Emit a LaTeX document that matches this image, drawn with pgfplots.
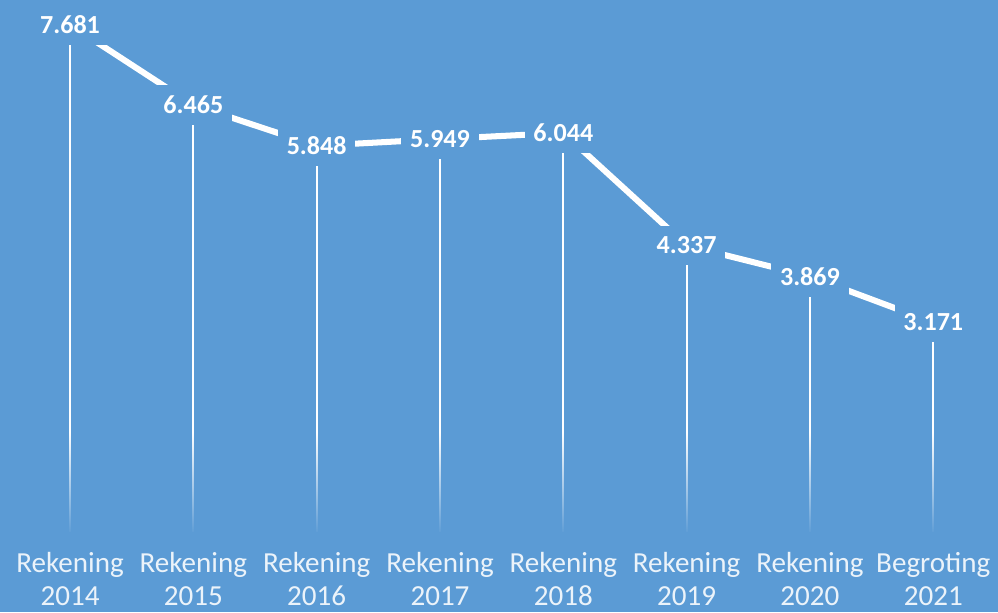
\documentclass[border=0pt]{standalone}
\usepackage{pgfplots}
\pgfplotsset{compat=1.18}
\usepackage{fontspec}
\setmainfont{Carlito}
\usetikzlibrary{fadings}
\definecolor{bg}{RGB}{91,155,213}
\begin{document}
\begin{tikzpicture}
\begin{axis}[
 scale only axis, width=14cm, height=8.585cm,
 xmin=-0.568, xmax=7.525, ymin=-1.220, ymax=8.053,
 axis background/.style={fill=bg},
 axis line style={draw=none},
 major tick length=0pt,
 ytick=\empty,
 xtick={0,...,7},
 xticklabels={{Rekening\\2014},{Rekening\\2015},{Rekening\\2016},{Rekening\\2017},{Rekening\\2018},{Rekening\\2019},{Rekening\\2020},{Begroting\\2021}},
 x tick label style={align=center, anchor=south, inner sep=0pt, yshift=2.4bp, font=\fontsize{11.6}{13.1}\selectfont, text=white!88!bg},
 clip=false,
]
\addplot[ycomb, white, line width=0.8bp, mark=none] table {
x y
0 7.681
1 6.465
2 5.848
3 5.949
4 6.044
5 4.337
6 3.869
7 3.171
};
\fill[bg, path fading=north] (axis cs:-0.568,-0.05) rectangle (axis cs:7.525,1.5);
\addplot[white, line width=2.4bp, mark=none, point meta=y,
 nodes near coords={\pgfmathprintnumber[fixed,fixed zerofill,precision=3,assume math mode=true]{\pgfplotspointmeta}},
 every node near coord/.append style={anchor=center, fill=bg, text=white, font=\bfseries\fontsize{10.4}{12}\selectfont, inner xsep=3.5bp, inner ysep=4.5bp}] table {
x y
0 7.681
1 6.465
2 5.848
3 5.949
4 6.044
5 4.337
6 3.869
7 3.171
};
\end{axis}
\end{tikzpicture}
\end{document}
